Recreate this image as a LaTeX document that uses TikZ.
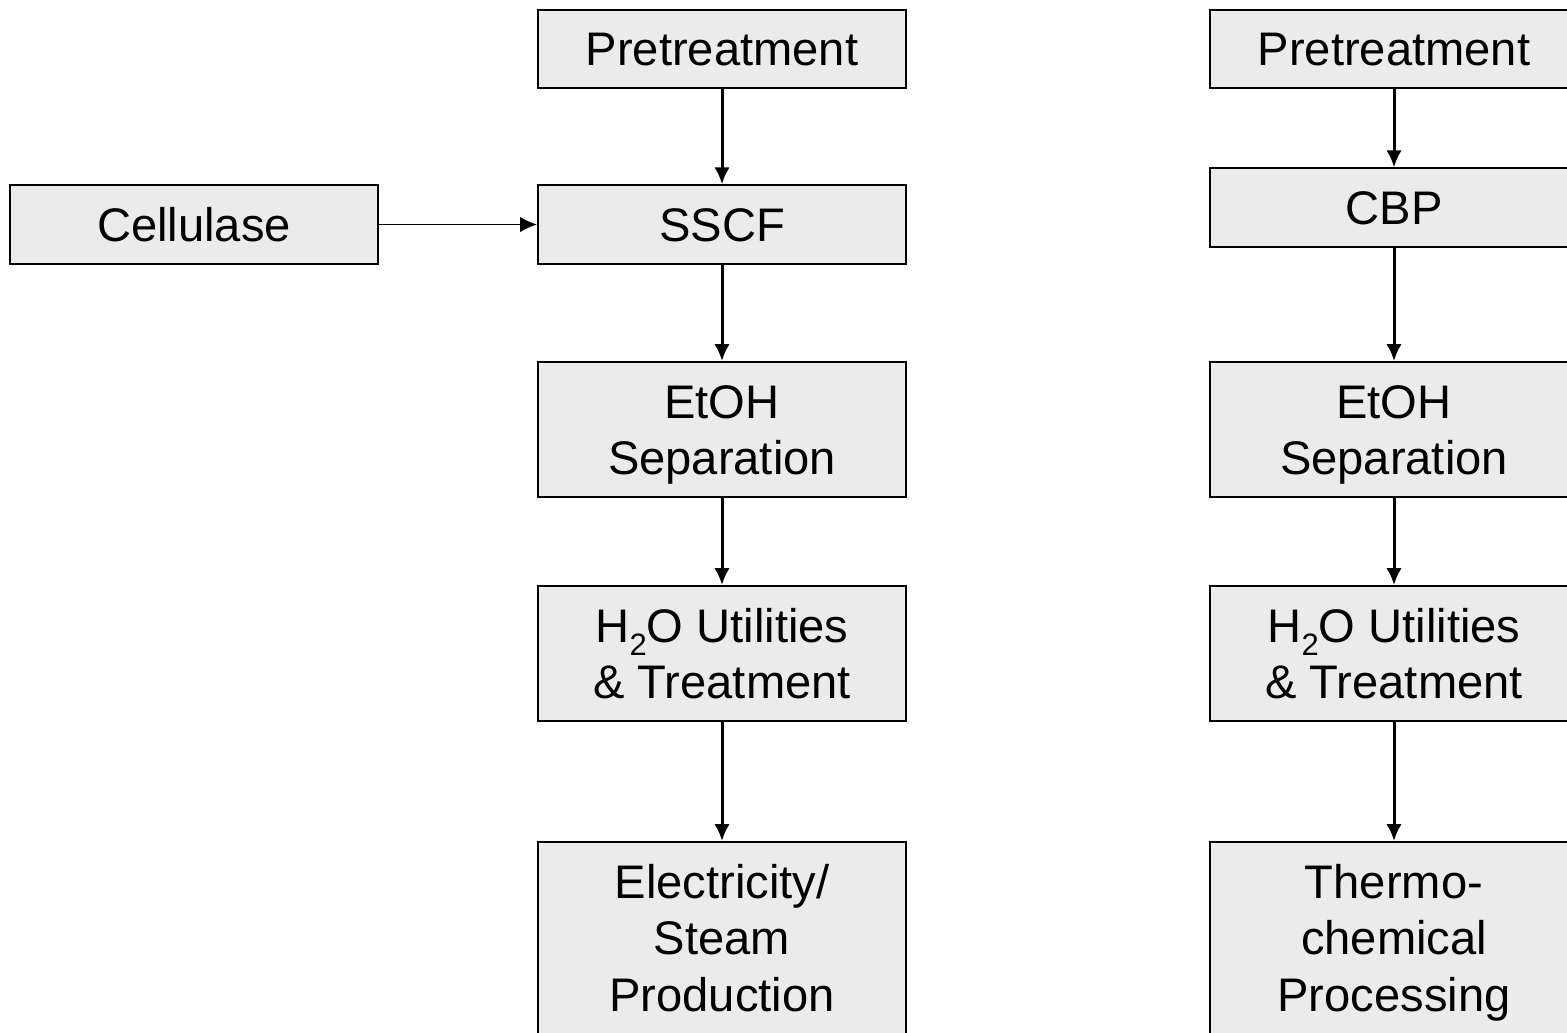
\documentclass[tikz,border=0pt]{standalone}
\usepackage{fontspec}
\setmainfont{Liberation Sans}
\usetikzlibrary{arrows.meta}
\newcommand*{\colA }{722}
\newcommand*{\colB }{1394}
\newcommand*{\colC }{194}
\newcommand*{\boxw }{3.68cm}
\newcommand*{\oneht}{0.785cm}
\newcommand*{\twoht}{1.35cm}
\newcommand*{\thrht}{1.92cm}
\newcommand*{\lowtwo}{\raisebox{-3.7pt}{\fontsize{8.8}{10}\selectfont 2}}

\begin{document}
\begin{tikzpicture}[x=0.01cm, y=-0.01cm, font=\fontsize{13.4}{16.1}\selectfont,
    procbox/.style={draw, line width=0.55pt, fill=gray!16, minimum width=\boxw, inner sep=0pt,
                    align=center, text height=9.6pt, text depth=0pt},
    twoline/.style={minimum height=\twoht, text height=25.7pt},
    threeline/.style={minimum height=\thrht, text height=41.8pt},
    flow/.style={-{Latex[length=4.8pt,width=4.4pt]}, line width=0.85pt}]
    \clip (0,0) rectangle (1567,1032);
        % left chain
        \node [procbox, minimum height=\oneht] (pretA) at (\colA,  49.0) {Pretreatment};
        \node [procbox, minimum height=\oneht] (sscf)  at (\colA, 224.5) {SSCF};
        \node [procbox, minimum height=\oneht] (cell)  at (\colC, 224.5) {Cellulase};
        \node [procbox, twoline]   (etohA)  at (\colA, 429.5) {EtOH\\Separation};
        \node [procbox, twoline]   (waterA) at (\colA, 653.5) {H\lowtwo O Utilities\\\& Treatment};
        \node [procbox, threeline] (elec)   at (\colA, 938.0) {Electricity/\\Steam\\Production};
        % right chain
        \node [procbox, minimum height=\oneht] (pretB) at (\colB,  49.0) {Pretreatment};
        \node [procbox, minimum height=\oneht] (cbp)   at (\colB, 207.5) {CBP};
        \node [procbox, twoline]   (etohB)  at (\colB, 429.5) {EtOH\\Separation};
        \node [procbox, twoline]   (waterB) at (\colB, 653.5) {H\lowtwo O Utilities\\\& Treatment};
        \node [procbox, threeline] (thermo) at (\colB, 938.0) {Thermo-\\chemical\\Processing};
        % connectors
        \draw [flow] (pretA) -- (sscf);
        \draw [flow] (sscf) -- (etohA);
        \draw [flow] (etohA) -- (waterA);
        \draw [flow] (waterA) -- (elec);
        \draw [flow, line width=0.5pt] (cell) -- (sscf);
        \draw [flow] (pretB) -- (cbp);
        \draw [flow] (cbp) -- (etohB);
        \draw [flow] (etohB) -- (waterB);
        \draw [flow] (waterB) -- (thermo);
    \end{tikzpicture}
\end{document}
